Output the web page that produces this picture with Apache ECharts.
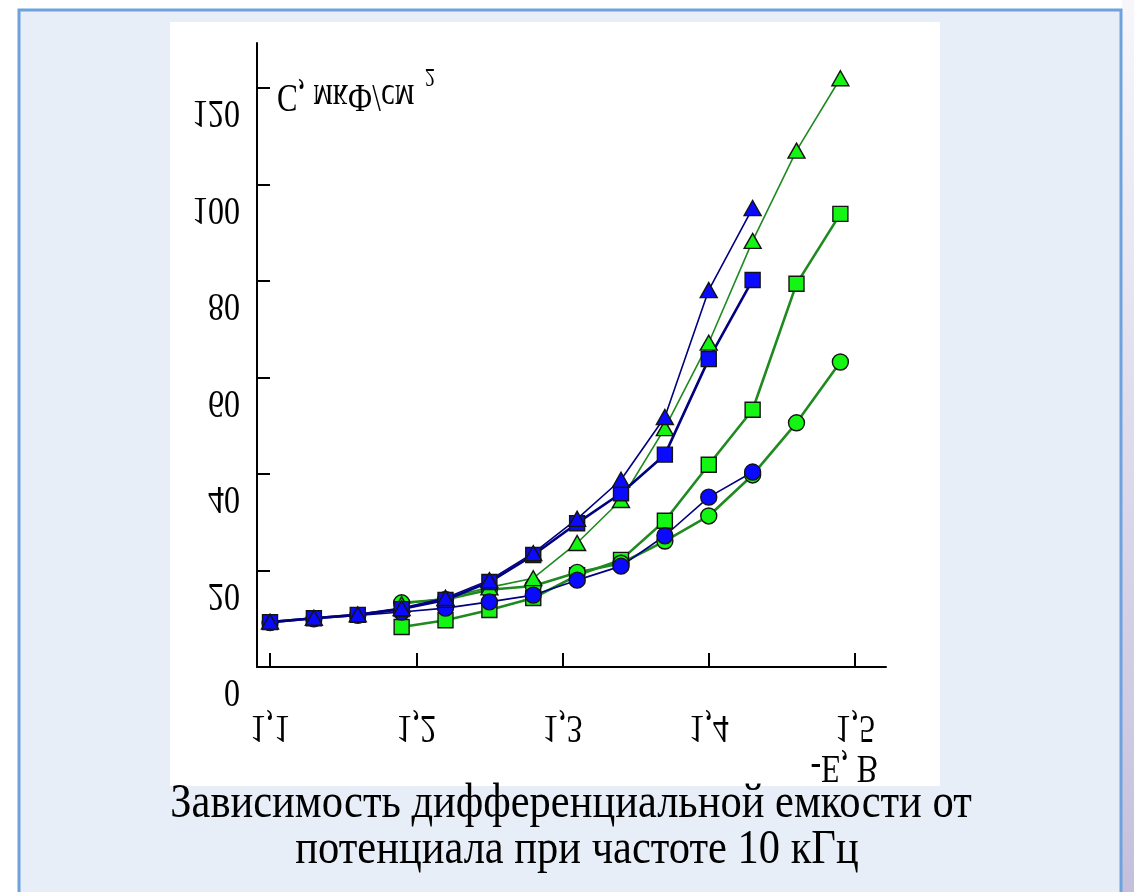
<!DOCTYPE html>
<html>
<head>
<meta charset="utf-8">
<script src="https://cdn.jsdelivr.net/npm/echarts@6/dist/echarts.min.js"></script>
<style>
  html, body { margin: 0; padding: 0; background: #ffffff; }
  #chart { width: 1134px; height: 892px; }
</style>
</head>
<body>
<div id="chart"></div>
<script>
// Electrode potential (-E, V) at which capacitance was measured
const potentialsBlue = [1.10, 1.13, 1.16, 1.19, 1.22, 1.25, 1.28, 1.31, 1.34, 1.37, 1.40, 1.43];
const potentialsGreen = [1.19, 1.22, 1.25, 1.28, 1.31, 1.34, 1.37, 1.40, 1.43, 1.46, 1.49];

// Differential capacitance, uF/cm2
const blueTriangles = [9.4, 10.2, 10.9, 12.2, 14.3, 18.0, 23.6, 30.7, 38.8, 51.8, 78.1, 95.1];
const blueSquares   = [9.3, 10.1, 10.8, 12.0, 13.9, 17.6, 23.2, 29.8, 36.0, 44.0, 63.8, 80.2];
const blueCircles   = [9.2, 10.0, 10.7, 11.4, 12.2, 13.5, 14.9, 18.0, 20.9, 27.2, 35.2, 40.4];
const greenTriangles = [13.0, 14.3, 16.5, 18.4, 25.7, 34.6, 49.5, 67.2, 88.3, 107.0, 122.0];
const greenSquares   = [8.3, 9.7, 11.8, 14.3, 19.0, 22.2, 30.3, 41.9, 53.3, 79.4, 93.9];
const greenCircles   = [13.3, 14.0, 16.0, 16.8, 19.6, 21.5, 26.1, 31.3, 39.8, 50.6, 63.2];

// Axis ticks and their captions
const xTicks = [1.1, 1.2, 1.3, 1.4, 1.5];
const xTickLabels = ['1,1', '1,2', '1,3', '1,4', '1,5'];
const yTicks = [0, 20, 40, 60, 80, 100, 120];
const yTickLabels = ['0', '20', '40', '60', '80', '100', '120'];

const X_MIN = 1.0911, X_MAX = 1.5212, Y_MIN = 0, Y_MAX = 129.3;

const SERIF = "'Liberation Serif', 'Times New Roman', 'DejaVu Serif', serif";
const NAVY = '#000080';
const FOREST = '#1f8a1f';
const BLUE = '#0a0aff';
const LIME = '#14f514';
const EDGE = '#141414';

function pairs(xs, ys) {
  return xs.map((x, i) => [x, ys[i]]);
}

function lineSeries(name, xs, ys, symbol, size, fill, lineColor, lineWidth) {
  return {
    name: name,
    type: 'line',
    data: pairs(xs, ys),
    symbol: symbol,
    symbolSize: size,
    showAllSymbol: true,
    animation: false,
    lineStyle: { color: lineColor, width: lineWidth },
    itemStyle: { color: fill, borderColor: EDGE, borderWidth: 1.4 },
    emphasis: { disabled: true }
  };
}

const chart = echarts.init(document.getElementById('chart'), null, { renderer: 'canvas' });

const option = {
  backgroundColor: '#ffffff',
  animation: false,
  grid: { left: 257, top: 43, right: 248, bottom: 225, containLabel: false },
  xAxis: {
    type: 'value',
    min: X_MIN,
    max: X_MAX,
    axisLine: { onZero: false, lineStyle: { color: '#000', width: 2 } },
    axisTick: { inside: true, length: 14, customValues: xTicks, lineStyle: { color: '#000', width: 2 } },
    axisLabel: { show: false },
    splitLine: { show: false }
  },
  yAxis: {
    type: 'value',
    min: Y_MIN,
    max: Y_MAX,
    axisLine: { onZero: false, lineStyle: { color: '#000', width: 2 } },
    axisTick: { inside: true, length: 13, customValues: yTicks.slice(1), lineStyle: { color: '#000', width: 2 } },
    axisLabel: { show: false },
    splitLine: { show: false }
  },
  series: [
    lineSeries('green squares', potentialsGreen, greenSquares, 'rect', 15, LIME, FOREST, 2.6),
    lineSeries('green circles', potentialsGreen, greenCircles, 'circle', 16, LIME, FOREST, 2.6),
    lineSeries('green triangles', potentialsGreen, greenTriangles, 'triangle', [17, 15], LIME, FOREST, 1.6),
    lineSeries('blue circles', potentialsBlue, blueCircles, 'circle', 16, BLUE, NAVY, 1.6),
    lineSeries('blue squares', potentialsBlue, blueSquares, 'rect', 15, BLUE, NAVY, 2.6),
    lineSeries('blue triangles', potentialsBlue, blueTriangles, 'triangle', [17, 15], BLUE, NAVY, 1.6)
  ]
};

chart.setOption(option);

// Captions of the figure are printed mirrored top-to-bottom, so they are drawn
// as graphic texts anchored on the axis scales.
const px = v => chart.convertToPixel({ xAxisIndex: 0 }, v);
const py = v => chart.convertToPixel({ yAxisIndex: 0 }, v);

function mirroredText(text, x, y, size, align) {
  return {
    type: 'text',
    x: x, y: y,
    scaleY: -1.28,
    z: 10,
    style: {
      text: text,
      font: size + 'px ' + SERIF,
      fill: '#000',
      align: align,
      verticalAlign: 'middle'
    }
  };
}

const elements = [];

// slide frame
elements.push({
  type: 'rect', z: -20, silent: true,
  shape: { x: 0, y: 0, width: 1134, height: 892 },
  style: { fill: '#ffffff' }
});
elements.push({
  type: 'rect', z: -19, silent: true,
  shape: { x: 1122, y: 0, width: 12, height: 892 },
  style: {
    fill: new echarts.graphic.LinearGradient(0, 0, 0, 1, [
      { offset: 0, color: '#f6f6fb' },
      { offset: 1, color: '#c4c0dc' }
    ])
  }
});
elements.push({
  type: 'rect', z: -18, silent: true,
  shape: { x: 19, y: 10, width: 1102, height: 900 },
  style: { fill: '#e8eef7', stroke: '#6ea2dd', lineWidth: 3 }
});
elements.push({
  type: 'rect', z: -17, silent: true,
  shape: { x: 170, y: 22, width: 770, height: 764 },
  style: { fill: '#ffffff' }
});

const x0 = px(X_MIN);
const y0 = py(0);

yTicks.forEach((v, i) => {
  elements.push(mirroredText(yTickLabels[i], x0 - 17, py(v) + 24, 32, 'right'));
});
xTicks.forEach((v, i) => {
  elements.push(mirroredText(xTickLabels[i], px(v), y0 + 60, 32, 'center'));
});

// axis names
elements.push(mirroredText('C, мкФ/см', x0 + 20, py(120) + 8, 31, 'left'));
elements.push(mirroredText('2', x0 + 173, py(120) - 12, 20, 'center'));
elements.push(mirroredText('-E, В', px(X_MAX) - 8, y0 + 100, 32, 'right'));

// caption
[['Зависимость дифференциальной емкости от', 571, 805],
 ['потенциала при частоте 10 кГц', 577, 851]].forEach(([t, x, y]) => {
  elements.push({
    type: 'text', x: x, y: y, scaleY: 1.12, z: 10,
    style: { text: t, font: '42.5px ' + SERIF, fill: '#000', align: 'center', verticalAlign: 'middle' }
  });
});

chart.setOption({ graphic: { elements: elements } });
</script>
</body>
</html>
